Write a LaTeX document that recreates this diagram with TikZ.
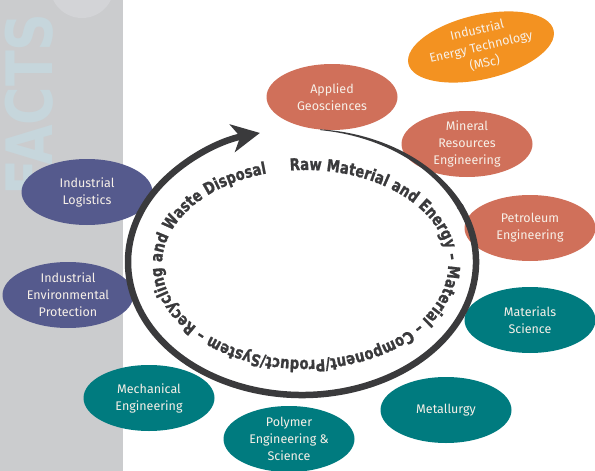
\documentclass[tikz,border=0pt]{standalone}
\usepackage{fontspec}
\setmainfont{Fira Sans}
\newfontfamily\ringfont{DejaVu Sans}[FakeStretch=0.8,FakeBold=1.2]
\newfontfamily\factsfont{DejaVu Sans}[FakeStretch=0.82]
\usetikzlibrary{shapes.geometric,decorations.text,arrows.meta}
\definecolor{salmon}{HTML}{D0705A}
\definecolor{orangec}{HTML}{F39221}
\definecolor{tealc}{HTML}{007B7F}
\definecolor{purplec}{HTML}{555A8D}
\definecolor{panelgray}{HTML}{CBCCCE}
\definecolor{panellight}{HTML}{D3D4D7}
\definecolor{factscol}{HTML}{C6D6DC}
\definecolor{ringgray}{HTML}{3A3A3C}
\definecolor{labeltext}{HTML}{F7F0E8}
\def\ringstyle{\ringfont\bfseries\fontsize{16.5}{16.5}\selectfont}
\tikzset{
  bubble/.style={ellipse, inner sep=0pt, minimum width=131pt, minimum height=66pt,
    text=labeltext, align=center, font=\fontsize{12.5}{17}\selectfont},
  salmonbubble/.style={bubble, fill=salmon},
  orangebubble/.style={bubble, fill=orangec, minimum width=128pt, minimum height=60pt},
  tealbubble/.style={bubble, fill=tealc},
  purplebubble/.style={bubble, fill=purplec},
}
\begin{document}
\begin{tikzpicture}[x=1pt,y=-1pt]
\useasboundingbox (0,0) rectangle (595,471);
% side panel
\fill[panelgray] (0,0) rectangle (123,471);
\begin{scope}
  \clip (0,0) rectangle (123,471);
  \fill[panellight] (82,-14) circle (32);
  \node[rotate=90, anchor=base west, inner sep=0pt, text=factscol,
        font=\factsfont\bfseries\fontsize{64}{64}\selectfont] (facts) at (52,196) {FACTS};
\end{scope}
% bubbles
\node[salmonbubble] (applied) at (332,97) {Applied\\Geosciences};
\node[orangebubble, rotate=13] (energy) at (481,47) {Industrial\\Energy Technology\\(MSc)};
\node[salmonbubble] (mineral) at (467,144) {Mineral\\Resources\\Engineering};
\node[salmonbubble] (petroleum) at (530,228) {Petroleum\\Engineering};
\node[tealbubble] (materials) at (530,320) {Materials\\Science};
\node[tealbubble] (metallurgy) at (446,410) {Metallurgy};
\node[tealbubble] (polymer) at (289,439) {Polymer\\Engineering \&\\Science};
\node[tealbubble] (mechanical) at (149,398) {Mechanical\\Engineering};
\node[purplebubble] (envprot) at (68,295) {Industrial\\Environmental\\Protection};
\node[purplebubble] (logistics) at (87,192) {Industrial\\Logistics};
% ring: tapered start
\fill[ringgray]
  plot[domain=-84:-24, samples=40, variable=\t]
    ({302+(174+0.5*(0.8+(\t+84)/60*5.7))*cos(\t)}, {262+(133+0.5*(0.8+(\t+84)/60*5.7))*sin(\t)})
  -- plot[domain=-24:-84, samples=40, variable=\t]
    ({302+(174-0.5*(0.8+(\t+84)/60*5.7))*cos(\t)}, {262+(133-0.5*(0.8+(\t+84)/60*5.7))*sin(\t)})
  -- cycle;
\draw[ringgray, line width=6.5pt, -{Stealth[length=28pt,width=28pt,inset=8pt]}]
  (302,262) ++(-25:174 and 133) arc[start angle=-25, end angle=256, x radius=174, y radius=133];
% ring text
\path[decorate, decoration={text along path, text align=fit to path, text color=ringgray,
  text={|\ringstyle|Raw Material and Energy – Material – Component/Product/System – Recycling and Waste Disposal}}]
  (305,265) ++(-96:143 and 95) arc[start angle=-96, end angle=254.5, x radius=143, y radius=95];
\end{tikzpicture}
\end{document}
